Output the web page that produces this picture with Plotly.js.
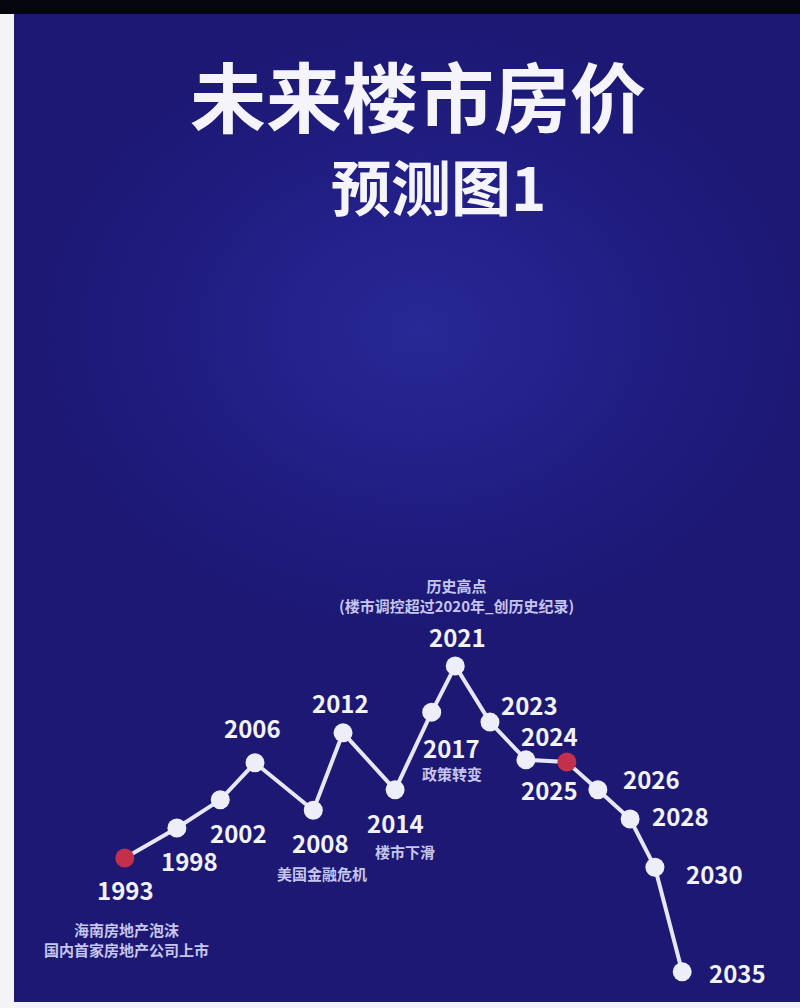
<!DOCTYPE html>
<html>
<head>
<meta charset="utf-8">
<script src="https://cdn.plot.ly/plotly-3.0.1.min.js"></script>
<style>
    html, body {
        margin: 0;
        padding: 0;
        width: 800px;
        height: 1008px;
        overflow: hidden;
    }
    body {
        background:
            linear-gradient(to bottom, #050510 0, #050510 14px, transparent 14px),
            linear-gradient(to right, #f4f4f6 0, #f4f4f6 14px, transparent 14px),
            linear-gradient(to bottom, transparent 1002px, #f4f4f6 1002px),
            radial-gradient(ellipse 380px 300px at 420px 330px, #282896 0%, #211e84 55%, #1c1874 100%);
        background-color: #1c1874;
    }
    #plot {
        width: 800px;
        height: 1008px;
    }
</style>
</head>
<body>
<div id="plot"></div>
<script>
// data: position on the timeline and price level
let years = ["1993", "1998", "2002", "2006", "2008", "2012", "2014", "2017",
             "2021", "2023", "2024", "2025", "2026", "2028", "2030", "2035"]
let timeline = [4.0, 12.4, 19.4, 25.0, 34.4, 39.2, 47.6, 53.5,
                57.3, 62.9, 68.7, 75.3, 80.3, 85.5, 89.5, 93.9]
let price = [35.7, 43.8, 51.4, 61.4, 48.6, 69.5, 54.1, 75.1,
             87.6, 72.4, 62.2, 61.6, 54.1, 46.2, 33.2, 4.9]
let highlight_years = ["1993", "2025"]

// notes under some of the years
let note_years = ["1993", "2008", "2014", "2017", "2021"]
let note_texts = [
    "海南房地产泡沫<br>国内首家房地产公司上市",
    "美国金融危机",
    "楼市下滑",
    "政策转变",
    "历史高点<br>(楼市调控超过2020年_创历史纪录)",
]

let title_text = "未来楼市房价"
let subtitle_text = "预测图1"

// label placement (pixels, relative to the point)
let label_shift = {
    "1993": [1, -32], "1998": [13, -33], "2002": [18, -33], "2006": [-3, 35],
    "2008": [7, -32], "2012": [-3, 30], "2014": [0, -33], "2017": [20, -35],
    "2021": [2, 29], "2023": [40, 18], "2024": [24, 24], "2025": [-17, -27],
    "2026": [54, 11], "2028": [50, 4], "2030": [60, -6], "2035": [55, -1],
}
let note_shift = {
    "1993": [2, -82], "2008": [9, -63], "2014": [10, -62], "2017": [20, -61], "2021": [1, 70],
}

const FONT = "Noto Sans CJK SC, Noto Sans, sans-serif"

// plot area in pixels, used to place the subtitle in paper units
const PLOT_TOP = 620
const PLOT_BOTTOM = 990

function build_plot() {
    let marker_colors = years.map(y => highlight_years.includes(y) ? "#c4304c" : "#eeeef8")

    let data = [{
        x: timeline,
        y: price,
        mode: "lines+markers",
        line: {color: "#e6e6f4", width: 4},
        marker: {size: 19, color: marker_colors, line: {width: 0}},
        hoverinfo: "skip",
    }]

    let annotations = []
    for (let i = 0; i < years.length; i++) {
        let shift = label_shift[years[i]]
        annotations.push({
            x: timeline[i], y: price[i], xref: "x", yref: "y",
            text: years[i], showarrow: false,
            xshift: shift[0], yshift: shift[1],
            font: {family: FONT, size: 24, color: "#f2f2fa", weight: 700},
        })
    }
    for (let i = 0; i < note_years.length; i++) {
        let idx = years.indexOf(note_years[i])
        let shift = note_shift[note_years[i]]
        annotations.push({
            x: timeline[idx], y: price[idx], xref: "x", yref: "y",
            text: note_texts[i], showarrow: false,
            xshift: shift[0], yshift: shift[1],
            font: {family: FONT, size: 15, color: "#c6c5ee", weight: 700},
        })
    }
    // subtitle: paper units reach above the plot area
    annotations.push({
        x: (438 - 100) / 620, y: (PLOT_BOTTOM - 184) / (PLOT_BOTTOM - PLOT_TOP),
        xref: "paper", yref: "paper",
        xanchor: "center", yanchor: "middle",
        text: subtitle_text, showarrow: false,
        font: {family: FONT, size: 60, color: "#f4f4fa", weight: 700},
    })

    let layout = {
        width: 800,
        height: 1008,
        paper_bgcolor: "rgba(0,0,0,0)",
        plot_bgcolor: "rgba(0,0,0,0)",
        margin: {l: 100, r: 80, t: PLOT_TOP, b: 1008 - PLOT_BOTTOM},
        showlegend: false,
        title: {
            text: title_text,
            x: 418 / 800, xref: "container", xanchor: "center",
            y: 1 - 100 / 1008, yref: "container", yanchor: "middle",
            font: {family: FONT, size: 76, color: "#f4f4fa", weight: 700},
        },
        xaxis: {range: [0, 100], visible: false, fixedrange: true},
        yaxis: {range: [0, 100], visible: false, fixedrange: true},
        annotations: annotations,
    }

    let config = {staticPlot: true}

    Plotly.newPlot("plot", data, layout, config)
}

window.addEventListener("DOMContentLoaded", () => build_plot())
</script>
</body>
</html>
